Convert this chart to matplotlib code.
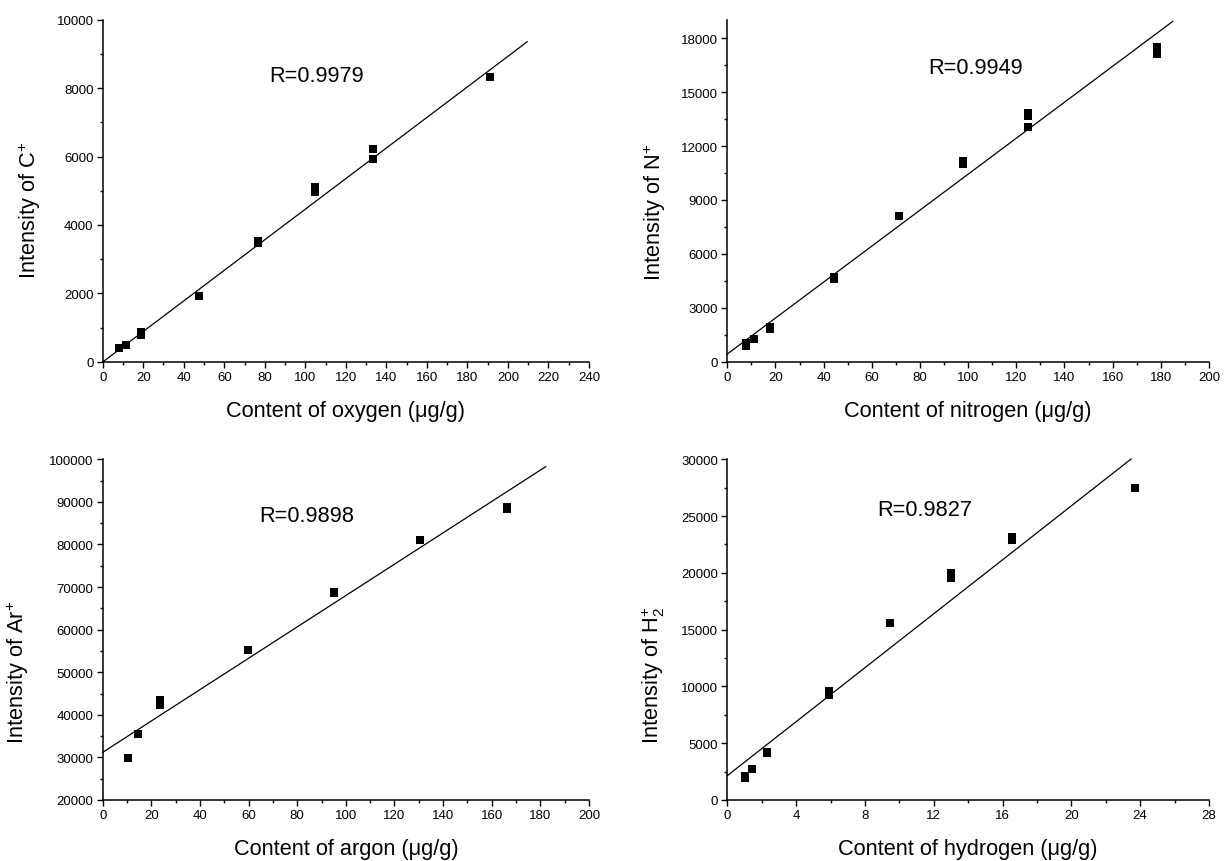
import matplotlib
matplotlib.use("Agg")
import matplotlib.pyplot as plt
from matplotlib.ticker import MultipleLocator
import numpy as np

plt.rcParams['font.family'] = ['Liberation Sans', 'DejaVu Sans']
plt.rcParams['mathtext.fontset'] = 'custom'
plt.rcParams['mathtext.rm'] = 'Liberation Sans'
plt.rcParams['mathtext.it'] = 'Liberation Sans:italic'

# ---- Data: oxygen / C+ ----
o_content = [8, 11.5, 19, 19, 47.5, 76.5, 76.5, 105, 105, 133.5, 133.5, 191]
o_intensity = [390, 487, 770, 860, 1930, 3460, 3530, 4960, 5110, 5940, 6210, 8330]
o_fit = [-10, 44.7]          # intercept, slope
o_fit_range = [0, 209.5]

# ---- Data: nitrogen / N+ ----
n_content = [7.6, 7.6, 11.1, 17.6, 17.6, 44.4, 44.4, 71.3, 98, 98, 124.8, 124.8, 124.8, 178.5, 178.5]
n_intensity = [870, 1060, 1262, 1840, 1950, 4590, 4710, 8110, 11020, 11190, 13050, 13680, 13860, 17110, 17510]
n_fit = [427, 100.1]
n_fit_range = [0, 184.9]

# ---- Data: argon / Ar+ ----
ar_content = [10.3, 14.7, 23.6, 23.6, 59.6, 95, 95, 130.6, 166.3, 166.3]
ar_intensity = [29940, 35400, 42230, 43400, 55150, 68500, 68900, 81000, 88260, 88800]
ar_fit = [31190, 368.2]
ar_fit_range = [0, 182.2]

# ---- Data: hydrogen / H2+ ----
h_content = [1.0, 1.0, 1.45, 2.33, 2.33, 5.91, 5.91, 9.48, 13.02, 13.02, 16.57, 16.57, 23.68]
h_intensity = [1970, 2110, 2700, 4140, 4260, 9280, 9570, 15620, 19580, 20030, 22930, 23170, 27500]
h_fit = [2143, 1188]
h_fit_range = [0, 23.47]

panels = [
    dict(x=o_content, y=o_intensity, fit=o_fit, fr=o_fit_range,
         xlim=(0, 240), ylim=(0, 10000), xmaj=20, xmin=10, ymaj=2000, ymin=1000,
         xlabel='Content of oxygen (\u03bcg/g)', ylabel='Intensity of C$^{+}$',
         r='R=0.9979', rpos=(317, 77), ylab_y=0.446,
         rect=[102.7, 20.7, 589, 362.7]),
    dict(x=n_content, y=n_intensity, fit=n_fit, fr=n_fit_range,
         xlim=(0, 200), ylim=(0, 19000), xmaj=20, xmin=10, ymaj=3000, ymin=1500,
         xlabel='Content of nitrogen (\u03bcg/g)', ylabel='Intensity of N$^{+}$',
         r='R=0.9949', rpos=(976, 68), ylab_y=0.441,
         rect=[727.3, 21.3, 1209, 362.7]),
    dict(x=ar_content, y=ar_intensity, fit=ar_fit, fr=ar_fit_range,
         xlim=(0, 200), ylim=(20000, 100000), xmaj=20, xmin=10, ymaj=10000, ymin=5000,
         xlabel='Content of argon (\u03bcg/g)', ylabel='Intensity of Ar$^{+}$',
         r='R=0.9898', rpos=(307, 517), ylab_y=0.379,
         rect=[102.7, 460.3, 589, 801]),
    dict(x=h_content, y=h_intensity, fit=h_fit, fr=h_fit_range,
         xlim=(0, 28), ylim=(0, 30000), xmaj=4, xmin=2, ymaj=5000, ymin=2500,
         xlabel='Content of hydrogen (\u03bcg/g)', ylabel='Intensity of H$_{2}^{+}$',
         r='R=0.9827', rpos=(925, 511), ylab_y=0.37,
         rect=[727.3, 460.3, 1209, 801]),
]

W, H = 1227, 862
fig = plt.figure(figsize=(W / 100, H / 100), dpi=100)
fig.patch.set_facecolor('white')

ylab_x_px = [30, 655, 18, 653]

for i, p in enumerate(panels):
    x0, ytop, x1, ybot = p['rect']
    ax = fig.add_axes([x0 / W, 1 - ybot / H, (x1 - x0) / W, (ybot - ytop) / H])
    ax.set_xlim(*p['xlim'])
    ax.set_ylim(*p['ylim'])
    for s in ['top', 'right']:
        ax.spines[s].set_visible(False)
    for s in ['left', 'bottom']:
        ax.spines[s].set_linewidth(1.1)
    ax.xaxis.set_major_locator(MultipleLocator(p['xmaj']))
    ax.xaxis.set_minor_locator(MultipleLocator(p['xmin']))
    ax.yaxis.set_major_locator(MultipleLocator(p['ymaj']))
    ax.yaxis.set_minor_locator(MultipleLocator(p['ymin']))
    ax.tick_params(which='major', direction='out', length=4.5, width=1.0,
                   labelsize=9.5, pad=2)
    ax.tick_params(which='minor', direction='out', length=2.5, width=1.0)
    ax.set_xticks(np.arange(p['xlim'][0], p['xlim'][1] + 1e-9, p['xmaj']))
    ax.set_xticklabels([f"{v:g}" for v in np.arange(p['xlim'][0], p['xlim'][1] + 1e-9, p['xmaj'])])

    # fit line
    fx = np.array(p['fr'], dtype=float)
    fy = p['fit'][0] + p['fit'][1] * fx
    ax.plot(fx, fy, color='black', lw=0.9, clip_on=False)
    # data points
    ax.plot(p['x'], p['y'], linestyle='none', marker='s', markersize=5.2,
            color='black', markeredgewidth=0, clip_on=False)

    ax.set_xlabel(p['xlabel'], fontsize=15.7, va='center')
    ax.xaxis.set_label_coords(0.5, -49 / (ybot - ytop))
    ax.set_ylabel(p['ylabel'], fontsize=15.7, va='center')
    ax.yaxis.set_label_coords((ylab_x_px[i] - x0) / (x1 - x0), p['ylab_y'])

    rx, ry = p['rpos']
    fig.text(rx / W, 1 - ry / H, p['r'], fontsize=15.7, ha='center', va='center')

fig.savefig('out.png', dpi=100, facecolor='white')
